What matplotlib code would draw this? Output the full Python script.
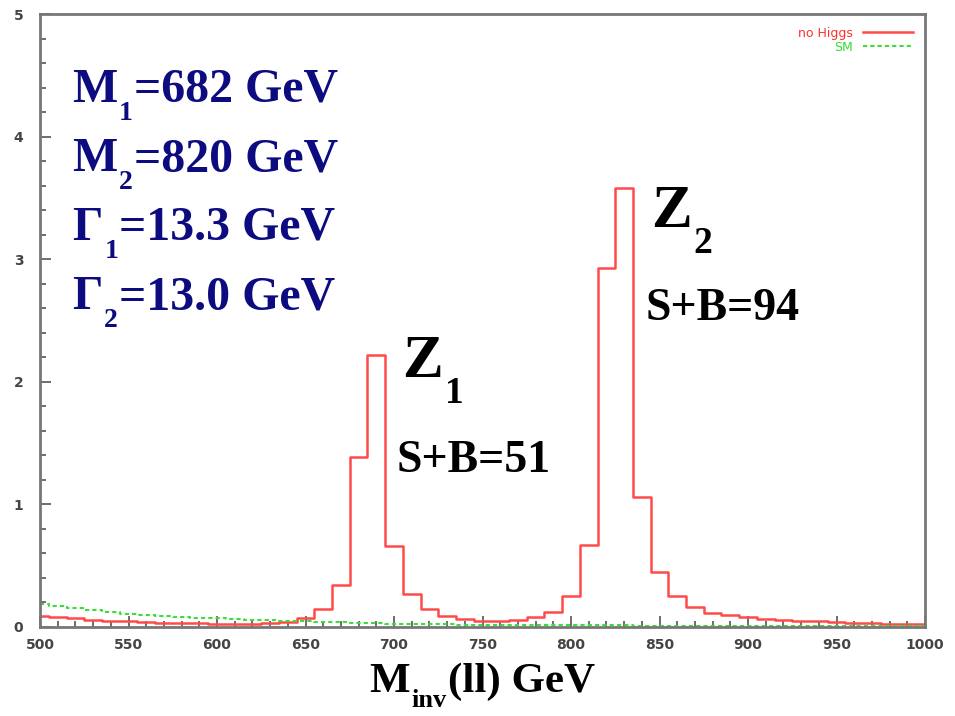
import numpy as np
import matplotlib
matplotlib.use("Agg")
import matplotlib.pyplot as plt
from matplotlib.ticker import MultipleLocator

# bin centres (GeV), 10 GeV bins
mass = np.arange(500, 1001, 10)

no_higgs = [0.09, 0.08, 0.07, 0.06, 0.05, 0.045, 0.04, 0.035, 0.032, 0.03,
            0.028, 0.027, 0.028, 0.03, 0.04, 0.076, 0.15, 0.34, 1.39, 2.22,
            0.66, 0.27, 0.15, 0.09, 0.065, 0.05, 0.05, 0.06, 0.085, 0.125,
            0.25, 0.67, 2.93, 3.58, 1.06, 0.45, 0.25, 0.166, 0.117, 0.098,
            0.08, 0.065, 0.055, 0.05, 0.045, 0.04, 0.035, 0.03, 0.028, 0.025,
            0.022]

sm = [0.19, 0.17, 0.155, 0.14, 0.125, 0.11, 0.1, 0.09, 0.08, 0.075,
      0.07, 0.065, 0.06, 0.055, 0.05, 0.045, 0.04, 0.037, 0.034, 0.031,
      0.028, 0.026, 0.024, 0.022, 0.02, 0.019, 0.018, 0.017, 0.016, 0.015,
      0.014, 0.014, 0.013, 0.013, 0.012, 0.012, 0.011, 0.011, 0.011, 0.01,
      0.01, 0.01, 0.01, 0.009, 0.009, 0.009, 0.009, 0.008, 0.008, 0.008,
      0.008]

# (symbol, subscript, rest)
params = [("M", "1", "=682 GeV"), ("M", "2", "=820 GeV"),
          ("\u0393", "1", "=13.3 GeV"), ("\u0393", "2", "=13.0 GeV")]

W, H = 955, 716
fig = plt.figure(figsize=(W / 100, H / 100), dpi=100)
ax = fig.add_axes([40 / W, 1 - 627 / H, 885 / W, 613 / H])
renderer = fig.canvas.get_renderer()


def serif_sub(x, y, base, sub, rest, size, sub_size, drop, color):
    """Bold serif text with a dropped subscript, placed in pixel coords."""
    kw = dict(family="Liberation Serif", fontweight="bold", color=color)
    t = fig.text(x / W, 1 - y / H, base, fontsize=size, **kw)
    x1 = t.get_window_extent(renderer).x1
    t2 = fig.text(x1 / W + 0.002, 1 - (y + drop) / H, sub, fontsize=sub_size, **kw)
    x2 = t2.get_window_extent(renderer).x1
    if rest:
        fig.text(x2 / W + 0.001, 1 - y / H, rest, fontsize=size, **kw)


ax.step(mass, no_higgs, where="mid", color="#ff4a4a", lw=1.8, label="no Higgs")
ax.step(mass, sm, where="mid", color="#3ddc3d", lw=1.5, ls=(0, (2, 1.5)), label="SM")

ax.set_xlim(500, 1000)
ax.set_ylim(0, 5)
ax.xaxis.set_major_locator(MultipleLocator(50))
ax.xaxis.set_minor_locator(MultipleLocator(10))
ax.yaxis.set_major_locator(MultipleLocator(1))
ax.yaxis.set_minor_locator(MultipleLocator(0.2))
ax.tick_params(which="both", direction="in", color="#555555", width=1.2,
               labelsize=10, labelcolor="#444444")
ax.tick_params(axis="x", pad=8)
ax.tick_params(axis="y", pad=12)
ax.tick_params(which="major", length=8)
ax.tick_params(which="minor", length=4)
for lab in ax.get_xticklabels() + ax.get_yticklabels():
    lab.set_fontweight("bold")
for s in ax.spines.values():
    s.set_color("#777777")
    s.set_linewidth(2)

leg = ax.legend(loc="upper right", frameon=False, fontsize=9, markerfirst=False,
                handlelength=4, labelspacing=0.1, borderaxespad=0.6)
for t, c in zip(leg.get_texts(), ["#ff3030", "#33dd33"]):
    t.set_color(c)

navy = "#0c0c80"
for i, (b, s, r) in enumerate(params):
    serif_sub(72, 102 + 69 * i, b, s, r, 34.5, 20, 18, navy)

serif_sub(402, 377, "Z", "1", "", 44, 27, 26, "black")
fig.text(397 / W, 1 - 472 / H, "S+B=51", fontsize=33, color="black",
         family="Liberation Serif", fontweight="bold")
serif_sub(651, 227, "Z", "2", "", 44, 27, 26, "black")
fig.text(646 / W, 1 - 320 / H, "S+B=94", fontsize=33, color="black",
         family="Liberation Serif", fontweight="bold")

serif_sub(369, 692, "M", "inv", "(ll) GeV", 31, 19, 15, "black")

fig.savefig("out.png", dpi=100)
